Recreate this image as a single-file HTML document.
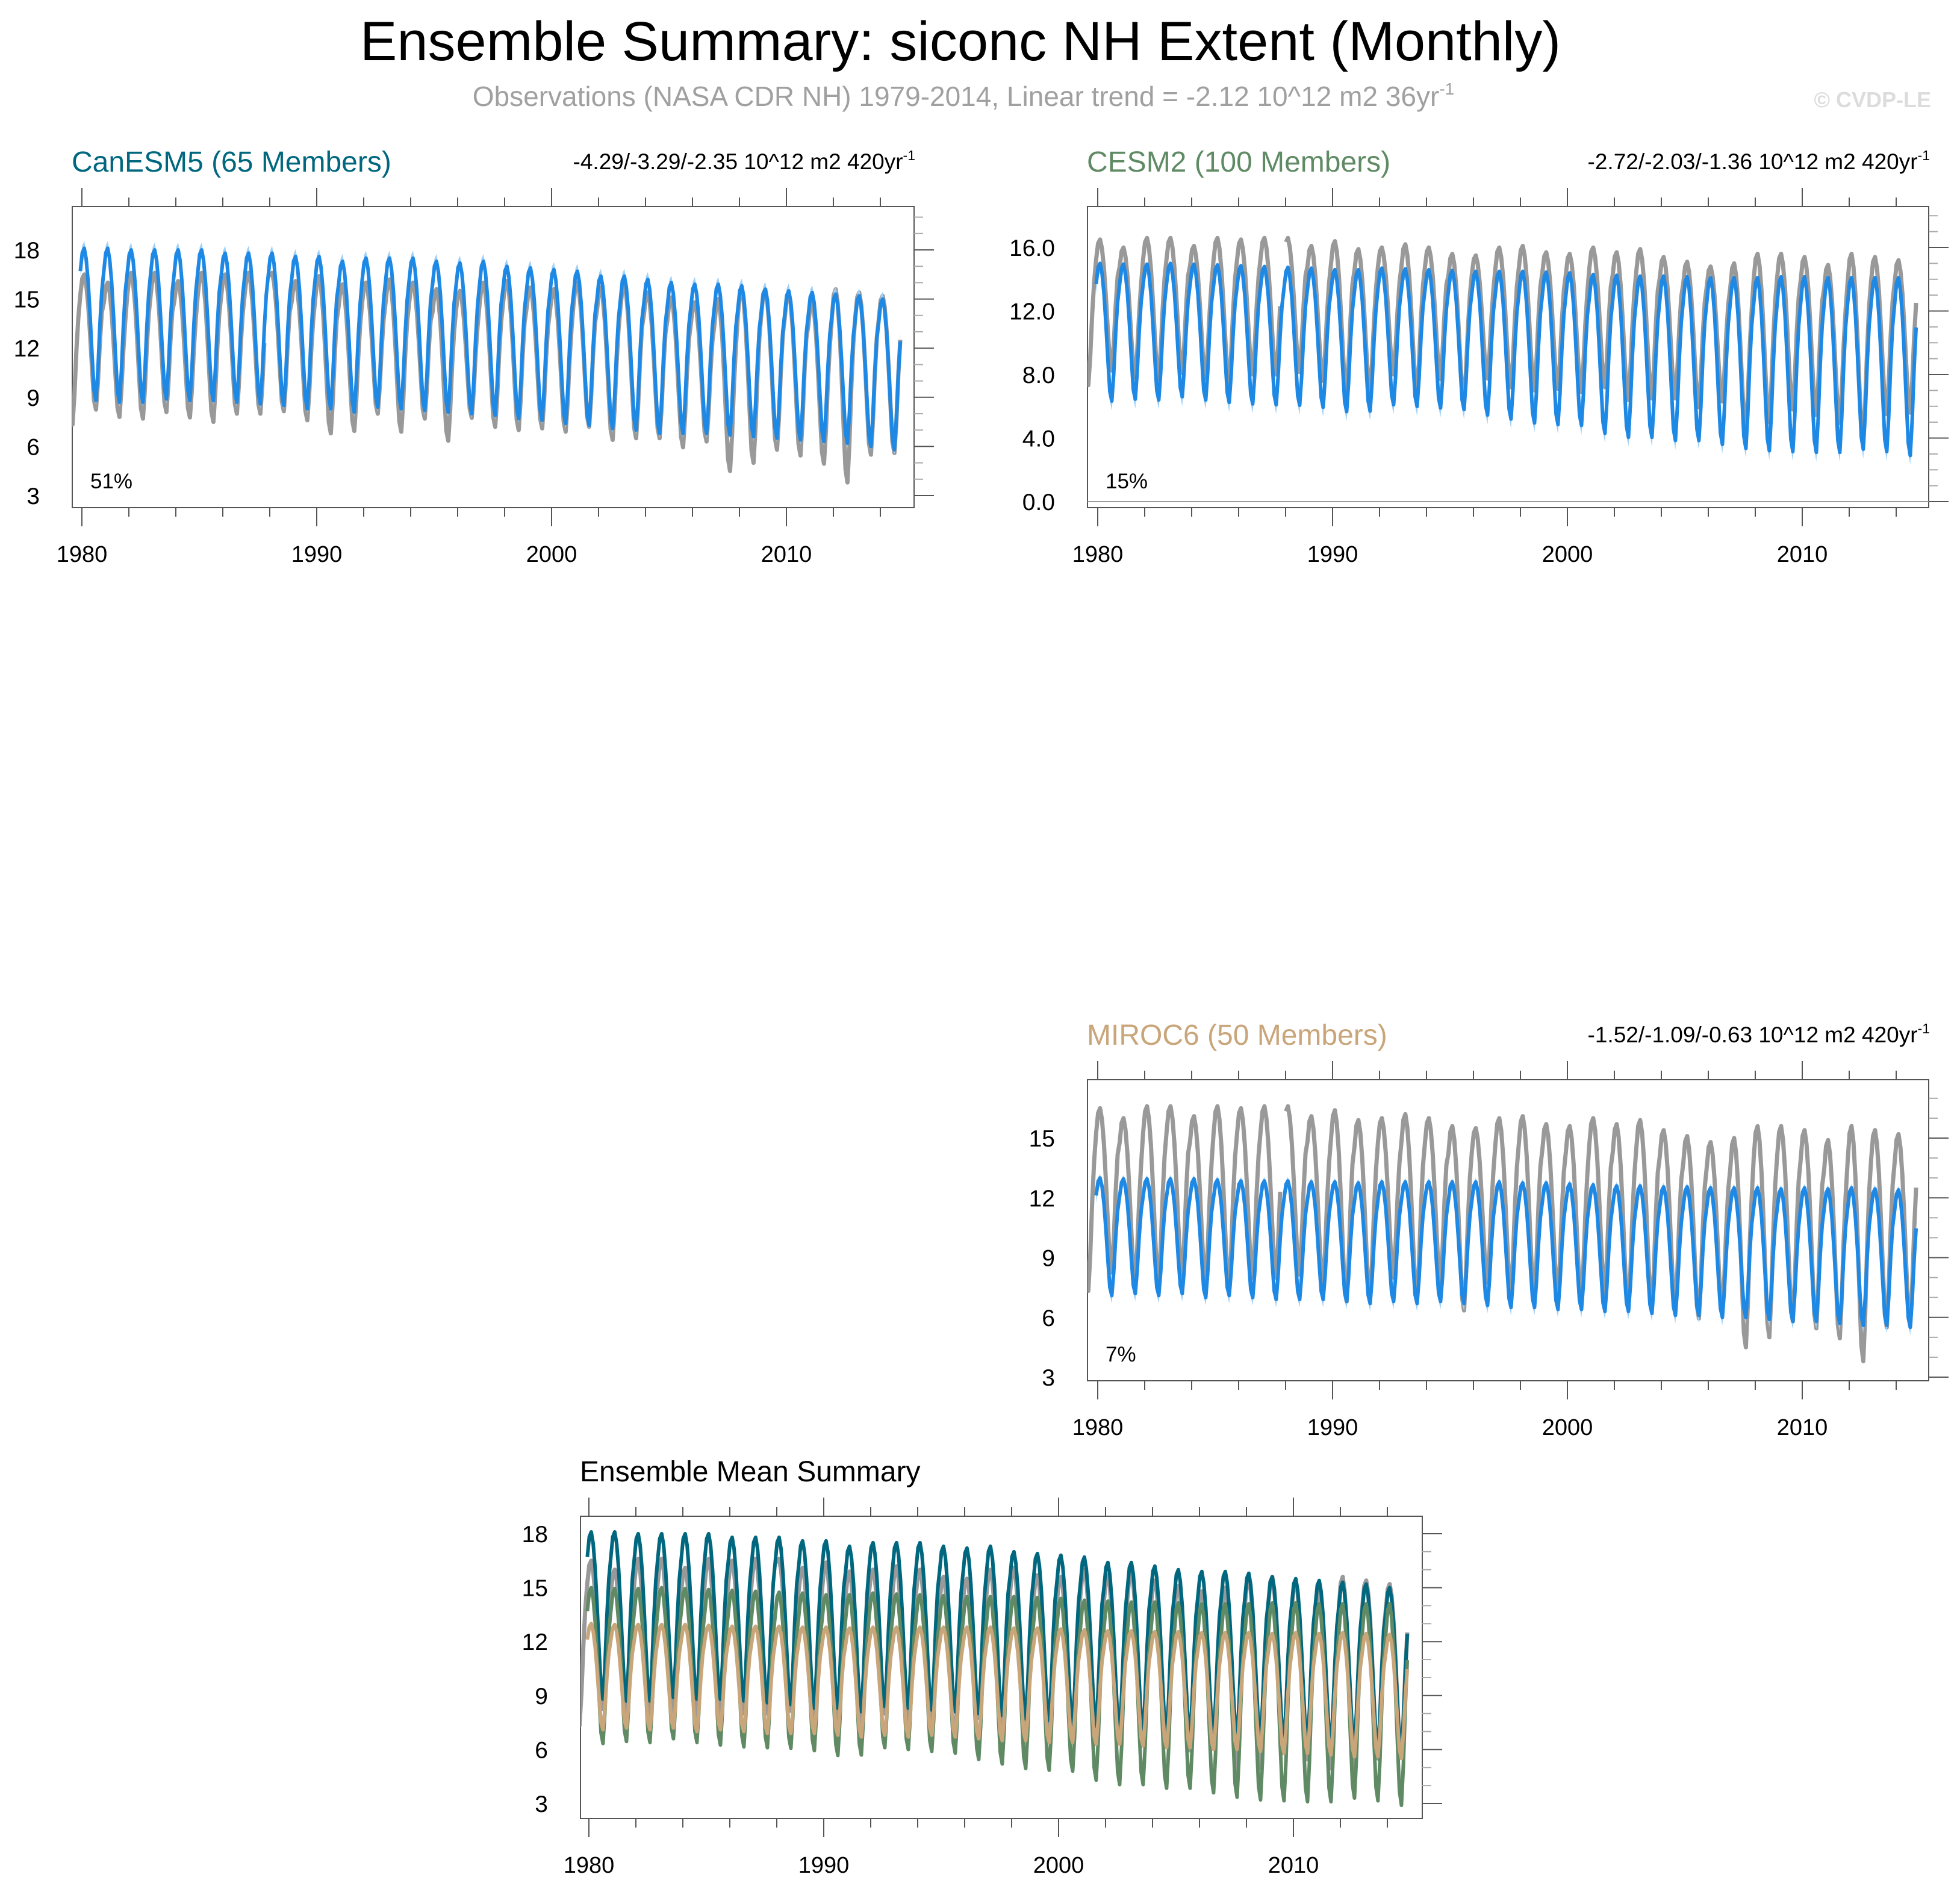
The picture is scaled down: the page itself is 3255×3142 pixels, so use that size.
<!DOCTYPE html>
<html><head><meta charset="utf-8"><title>Ensemble Summary: siconc NH Extent</title>
<style>
html,body{margin:0;padding:0;background:#fff;}
svg{display:block;font-family:"Liberation Sans",Arial,sans-serif;}
</style></head>
<body>
<svg id="fig" width="3255" height="3142" viewBox="0 0 3255 3142" xmlns="http://www.w3.org/2000/svg">
<text x="1595" y="100" font-size="92" text-anchor="middle" fill="#000">Ensemble Summary: siconc NH Extent (Monthly)</text>
<text x="1600" y="176" font-size="46" text-anchor="middle" fill="#a0a0a0">Observations (NASA CDR NH) 1979-2014, Linear trend = -2.12 10^12 m2 36yr<tspan dy="-19" font-size="28">-1</tspan></text>
<text x="3207" y="178" font-size="36" font-weight="bold" text-anchor="end" fill="#dcdcdc">© CVDP-LE</text>
<g id="panels"></g>
</svg>
<script>
// ---- data (annual values, years 1979..2014) ----
const years = [1979,1980,1981,1982,1983,1984,1985,1986,1987,1988,1989,1990,1991,1992,1993,1994,1995,1996,1997,1998,1999,2000,2001,2002,2003,2004,2005,2006,2007,2008,2009,2010,2011,2012,2013,2014];
// normalised seasonal shape Jan..Dec (0 = annual minimum, 1 = annual maximum)
const seasonalShape = [0.85,0.97,1.0,0.93,0.78,0.56,0.30,0.07,0.0,0.2,0.5,0.72];
const obsMax = [16.4,16.5,16.0,16.6,16.6,16.1,16.6,16.5,16.6,16.6,16.1,16.4,15.9,16.0,16.2,16.0,15.6,15.5,16.0,16.1,15.7,15.6,16.0,15.7,15.9,15.4,15.1,14.8,15.0,15.6,15.6,15.4,14.9,15.6,15.4,15.2];
const obsMin = [7.33,8.25,7.8,7.7,8.1,7.77,7.5,8.0,8.0,8.15,7.6,6.8,6.95,8.0,6.9,7.7,6.35,7.75,7.2,7.0,7.1,6.9,7.2,6.4,6.5,6.5,5.95,6.3,4.5,5.0,5.8,5.45,4.95,3.8,5.5,5.6];
const canMax = [null,18.1,18.1,18.0,18.0,18.0,18.0,17.8,17.8,17.8,17.6,17.6,17.3,17.5,17.5,17.5,17.3,17.2,17.3,17.0,16.9,16.8,16.7,16.4,16.4,16.2,16.0,15.9,15.9,15.8,15.6,15.5,15.4,15.3,15.2,15.0];
const canMin = [null,8.8,8.7,8.7,8.9,8.8,8.8,8.7,8.6,8.5,8.3,8.3,8.1,8.4,8.3,8.2,8.1,8.0,7.9,7.7,7.6,7.4,7.3,7.1,7.0,6.8,6.8,6.8,6.7,6.6,6.5,6.4,6.3,6.2,6.0,5.8];
const cesmMax = [null,15.0,14.95,14.95,15.0,14.95,14.9,14.85,14.8,14.75,14.7,14.6,14.6,14.7,14.65,14.6,14.55,14.5,14.5,14.5,14.45,14.4,14.3,14.25,14.2,14.2,14.15,14.1,14.1,14.1,14.15,14.15,14.1,14.1,14.1,14.1];
const cesmMin = [null,6.33,6.45,6.4,6.6,6.4,6.25,6.15,6.1,6.07,5.94,5.67,5.7,6.1,6.0,5.9,5.8,5.45,5.2,4.95,4.85,4.8,4.3,4.05,4.05,3.85,3.85,3.6,3.35,3.2,3.15,3.1,3.1,3.3,3.15,2.9];
const mirocMax = [null,13.0,12.95,12.95,12.95,12.95,12.9,12.85,12.85,12.85,12.8,12.8,12.75,12.8,12.8,12.8,12.8,12.8,12.8,12.75,12.75,12.7,12.65,12.6,12.6,12.55,12.55,12.5,12.5,12.5,12.45,12.5,12.45,12.5,12.45,12.4];
const mirocMin = [null,7.1,7.2,7.1,7.2,7.0,7.1,7.0,6.9,6.9,6.9,6.8,6.7,6.8,6.7,6.8,6.7,6.6,6.5,6.5,6.4,6.4,6.3,6.3,6.2,6.1,6.1,6.0,6.0,5.9,5.8,5.8,5.7,5.6,5.6,5.5];
const spreadUp = [0.45,0.15,0.2];
const spreadDn = [0.3,0.6,0.4];
const obsMissing = ["1987-11","1988-0"];
const xTickYears = [1980,1990,2000,2010];
const pctLabels = ["51%","15%","7%"];
const trendLabels = ["-4.29/-3.29/-2.35 10^12 m2 420yr","-2.72/-2.03/-1.36 10^12 m2 420yr","-1.52/-1.09/-0.63 10^12 m2 420yr"];

const NS="http://www.w3.org/2000/svg";
function el(tag, attrs, parent){const e=document.createElementNS(NS,tag);for(const k in attrs)e.setAttribute(k,attrs[k]);(parent||document.getElementById('panels')).appendChild(e);return e;}

function monthly(maxA,minA,startYear,startMonth,offset,missing){
  const pts=[];
  years.forEach((y,i)=>{
    if(maxA[i]==null) return;
    for(let m=0;m<12;m++){
      if(y<startYear||(y===startYear&&m<startMonth)) continue;
      if(missing && missing.indexOf(y+"-"+m)>=0){pts.push(null);continue;}
      pts.push({t:y-0.067+m/12,v:minA[i]+seasonalShape[m]*(maxA[i]-minA[i])+(offset||0)});
    }
  });
  return pts;
}

function makePanel(p,idx){
  const g=el('g',{});
  
  
  const pxYear=39.0;
  const X=t=>p.x1980+(t-1980)*pxYear;
  const Y=v=>p.yA+(v-p.vA)*(p.yB-p.yA)/(p.vB-p.vA);
  const clipId='clip'+idx;
  const cp=el('clipPath',{id:clipId},g);
  el('rect',{x:p.l,y:p.t,width:p.r-p.l,height:p.b-p.t},cp);
  const fr=el('rect',{x:p.l,y:p.t,width:p.r-p.l,height:p.b-p.t,fill:'none',stroke:'#555','stroke-width':2},g);
  
  
  for(let yr=1980;yr<=2014;yr+=2){
    const x=X(yr); if(x<p.l||x>p.r) continue;
    const major=xTickYears.indexOf(yr)>=0, len=major?31:15;
    el('line',{x1:x,y1:p.t,x2:x,y2:p.t-len,stroke:'#555','stroke-width':2},g);
    el('line',{x1:x,y1:p.b,x2:x,y2:p.b+len,stroke:'#555','stroke-width':2},g);
  }
  xTickYears.forEach(yr=>{
    const tx=el('text',{x:X(yr),y:p.b+90,'font-size':38,'text-anchor':'middle',fill:'#000'},g);
    
    
    tx.textContent=yr;
  });
  for(let v=Math.ceil(p.vMin);v<=p.vMax;v+=p.minor){
    const y=Y(v); if(y<p.t+4||y>p.b) continue;
    const major=Math.abs((v-p.vA)/p.major-Math.round((v-p.vA)/p.major))<1e-6;
    el('line',{x1:p.r,y1:y,x2:p.r+(major?33:15),y2:y,stroke:major?'#555':'#aaa','stroke-width':2},g);
    if(major){
      const ty=el('text',{x:p.l-54,y:y+14,'font-size':39,'text-anchor':'end',fill:'#000'},g);
      
      
      ty.textContent=p.dec?v.toFixed(1):v;
    }
  }
  const pg=el('g',{'clip-path':'url(#'+clipId+')'},g);
  if(p.zeroLine){el('line',{x1:p.l,y1:Y(0),x2:p.r,y2:Y(0),stroke:'#999','stroke-width':2},pg);}
  function path(pts){let d='',pen=false;pts.forEach(q=>{if(!q){pen=false;return;}d+=(pen?'L':'M')+X(q.t).toFixed(1)+','+Y(q.v).toFixed(1);pen=true;});return d;}
  p.series.forEach(s=>{
    if(s.band){
      const up=monthly(s.max,s.min,1980,0,s.up), dn=monthly(s.max,s.min,1980,0,-s.dn);
      const d=path(up)+dn.reverse().map(q=>'L'+X(q.t).toFixed(1)+','+Y(q.v).toFixed(1)).join('')+'Z';
      const b=el('path',{d:d,fill:'#9fd0f7',stroke:'none'},pg);
      
      
    }
    const pts=s.obs?monthly(s.max,s.min,1979,6,0,obsMissing):monthly(s.max,s.min,1980,0,0);
    const ln=el('path',{d:path(pts),fill:'none',stroke:s.color,'stroke-width':s.w||6,'stroke-linejoin':'round'},pg);
    
    
  });
  if(p.title){
    const tt=el('text',{x:p.l-1,y:p.t-58,'font-size':48,fill:p.titleColor},g);
    
    
    tt.textContent=p.title;
  }
  if(p.trend){
    const tr=el('text',{x:p.r+2,y:p.t-62,'font-size':37,'text-anchor':'end',fill:'#000'},g);
    
    
    tr.textContent=p.trend;
    const sp=el('tspan',{dy:-15,'font-size':23},tr);
    sp.textContent='-1';
  }
  if(p.pct){
    const pc=el('text',{x:p.l+30,y:p.b-32,'font-size':35,fill:'#000'},g);
    
    
    pc.textContent=p.pct;
  }
}

const blue='#1e88e5';
const obsS={obs:true,max:obsMax,min:obsMin,color:'#999999',w:7,label:'observations-line'};
makePanel({name:'canesm5',l:120,r:1518,t:343,b:843,x1980:136,vA:18,yA:415,vB:3,yB:823,vMin:2,vMax:20.6,minor:1,major:3,
  title:'CanESM5 (65 Members)',titleColor:'#00677f',trend:trendLabels[0],pct:pctLabels[0],
  series:[obsS,{band:true,up:spreadUp[0],dn:spreadDn[0],max:canMax,min:canMin,color:blue,label:'canesm5-mean-line'}]},0);
makePanel({name:'cesm2',l:1806,r:3203,t:343,b:843,x1980:1823,vA:16,yA:411,vB:0,yB:833,vMin:-1,vMax:19,minor:1,major:4,dec:true,zeroLine:true,
  title:'CESM2 (100 Members)',titleColor:'#5f8a64',trend:trendLabels[1],pct:pctLabels[1],
  series:[obsS,{band:true,up:spreadUp[1],dn:spreadDn[1],max:cesmMax,min:cesmMin,color:blue,label:'cesm2-mean-line'}]},1);
makePanel({name:'miroc6',l:1806,r:3203,t:1793,b:2293,x1980:1823,vA:15,yA:1890,vB:3,yB:2287,vMin:2,vMax:17.9,minor:1,major:3,
  title:'MIROC6 (50 Members)',titleColor:'#c9a57a',trend:trendLabels[2],pct:pctLabels[2],
  series:[obsS,{band:true,up:spreadUp[2],dn:spreadDn[2],max:mirocMax,min:mirocMin,color:blue,label:'miroc6-mean-line'}]},2);
makePanel({name:'ensemble-mean',l:964,r:2362,t:2518,b:3020,x1980:978,vA:18,yA:2547,vB:3,yB:2995,vMin:2,vMax:18.9,minor:1,major:3,
  title:'Ensemble Mean Summary',titleColor:'#000',
  series:[obsS,
    {max:canMax,min:canMin,color:'#00677f',label:'canesm5-mean-line'},
    {max:cesmMax,min:cesmMin,color:'#5f8a64',label:'cesm2-mean-line'},
    {max:mirocMax,min:mirocMin,color:'#c9a57a',label:'miroc6-mean-line'}]},3);
</script>
</body></html>
